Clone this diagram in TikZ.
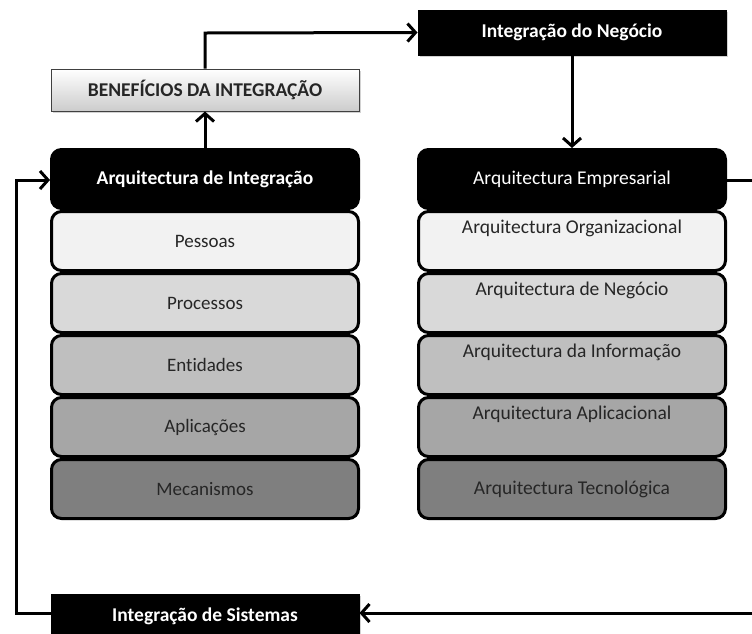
\documentclass[tikz,border=0pt]{standalone}
\usepackage{fontspec}
\setmainfont{Carlito}[Ligatures={NoCommon}]
\usetikzlibrary{arrows.meta,shadows}
\definecolor{txt}{HTML}{262626}
\definecolor{lvA}{HTML}{F2F2F2}
\definecolor{lvB}{HTML}{D9D9D9}
\definecolor{lvC}{HTML}{BFBFBF}
\definecolor{lvD}{HTML}{A6A6A6}
\definecolor{lvE}{HTML}{7F7F7F}
\tikzset{
  layer/.style={draw=black, line width=3pt, rounded corners=10pt,
    minimum width=307pt, minimum height=59pt, inner sep=0pt,
    text=txt, font=\fontsize{19}{22}\selectfont},
  headbox/.style={layer, fill=black, text=white},
  darkbar/.style={draw=black, fill=black, line width=1pt, minimum width=308pt,
    inner sep=0pt, text=white, font=\fontsize{19.5}{22}\selectfont\bfseries,
    drop shadow={opacity=0.35, shadow xshift=2pt, shadow yshift=-2pt}},
  lightbar/.style={draw=black!75, line width=1pt, minimum width=308pt,
    minimum height=42pt, inner sep=0pt, top color=white, bottom color=black!20,
    text=txt, font=\fontsize{19.5}{22}\selectfont\bfseries,
    drop shadow={opacity=0.35, shadow xshift=2pt, shadow yshift=-2pt}},
  flow/.style={line width=3pt, -{Straight Barb[length=8pt,width=18pt,line width=3pt]}},
  rowtext/.style={text=txt, font=\fontsize{19.5}{22}\selectfont, anchor=center, inner sep=0pt}
}
\begin{document}
\begin{tikzpicture}[x=1pt,y=-1pt]
\useasboundingbox (0,0) rectangle (752,633);
\fill[white] (0,0) rectangle (752,633);

% left stack: integration architecture
\node[headbox, font=\fontsize{19.5}{22}\selectfont\bfseries] (ai) at (205,179) {Arquitectura de Integração};
\node[layer, fill=lvA] (pe) at (205,241) {Pessoas};
\node[layer, fill=lvB] (pr) at (205,303) {Processos};
\node[layer, fill=lvC] (en) at (205,365) {Entidades};
\node[layer, fill=lvD] (ap) at (205,427) {Aplicações};
\node[layer, fill=lvE] (me) at (205,489) {Mecanismos};

% right stack: enterprise architecture
\node[headbox, font=\fontsize{19.5}{22}\selectfont] (ae) at (572,179) {Arquitectura Empresarial};
\node[layer, fill=lvA] (ao) at (572,241) {};
\node[layer, fill=lvB] (an) at (572,303) {};
\node[layer, fill=lvC] (ainf) at (572,365) {};
\node[layer, fill=lvD] (aap) at (572,427) {};
\node[layer, fill=lvE, font=\fontsize{19.5}{22}\selectfont] (at) at (572,489) {Arquitectura Tecnológica};
\node[rowtext] (tao) at ([yshift=-18pt]ao.north) {Arquitectura Organizacional};
\node[rowtext] (tan) at ([yshift=-18pt]an.north) {Arquitectura de Negócio};
\node[rowtext] (tainf) at ([yshift=-18pt]ainf.north) {Arquitectura da Informação};
\node[rowtext] (taap) at ([yshift=-18pt]aap.north) {Arquitectura Aplicacional};

% bars
\node[lightbar] (ben) at (205,90) {BENEFÍCIOS DA INTEGRAÇÃO};
\node[darkbar, minimum height=45pt] (neg) at (572,32.5) {Integração do Negócio};
\node[darkbar, minimum height=44pt] (sis) at (205,616) {\raisebox{3pt}{Integração de Sistemas}};

% connectors
\coordinate (tl) at (205,33);
\coordinate (er) at (772,180);
\coordinate (br) at (772,613);
\coordinate (bl) at (16,613);
\coordinate (ul) at (16,180);
\draw[flow] (ai.north) -- (ben.south);
\draw[flow] (ben.north) -- (tl) -- (neg.west);
\draw[flow] (neg.south) -- (ae.north);
\draw[flow] (ae.east |- er) -- (er) -- (br) -- (sis.east |- br);
\draw[flow] (sis.west |- bl) -- (bl) -- (ul) -- (ai.west |- ul);
\end{tikzpicture}
\end{document}
